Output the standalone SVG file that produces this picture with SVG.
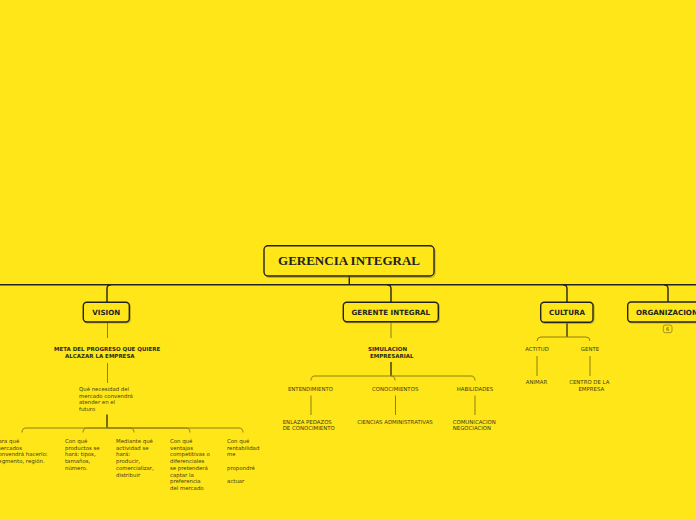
<svg xmlns="http://www.w3.org/2000/svg" width="696" height="520" viewBox="0 0 696 520">
<style>
.bg{fill:#FFE619}
.box{fill:#FFE619;stroke:#222;stroke-width:1.4}
.shd{fill:none;stroke:#9a8a10;stroke-width:1.2;opacity:.6}
.main{fill:none;stroke:#222;stroke-width:1.4}
.stem{fill:none;stroke:#2a2a10;stroke-width:1.3}
.sub{fill:none;stroke:#8f7f15;stroke-width:1}
.t-root{font-family:"Liberation Serif","Times New Roman",serif;font-weight:bold;font-size:13px;fill:#222}
.t-node{font-family:"DejaVu Sans",Verdana,sans-serif;font-weight:bold;font-size:7.1px;fill:#222}
.t-bold{font-family:"DejaVu Sans",Verdana,sans-serif;font-weight:bold;font-size:5.5px;fill:#2a2a18}
.t-sm{font-family:"DejaVu Sans",Verdana,sans-serif;font-size:5.4px;fill:#443d14}
.badge{fill:none;stroke:#8f7f15;stroke-width:0.8}
.t-badge{font-family:"DejaVu Sans",Verdana,sans-serif;font-size:5px;fill:#4a4318}
</style>
<rect class="bg" x="0" y="0" width="696" height="520"/>

<g id="connectors">
  <path class="main" d="M349.3,276 V284.75"/>
  <path class="main" d="M0,284.75 H696"/>
  <path class="main" d="M111,284.75 Q107,284.75 107,288.75 V302.3"/>
  <path class="main" d="M387,284.75 Q391,284.75 391,288.75 V302.3"/>
  <path class="main" d="M563,284.75 Q567,284.75 567,288.75 V302.3"/>
  <path class="main" d="M664,284.75 Q668,284.75 668,288.75 V302"/>

  <!-- VISION subtree -->
  <path class="sub" d="M107.5,322 V338"/>
  <path class="sub" d="M107.5,363 V383"/>
  <path class="stem" d="M107,414.5 V428"/>
  <path class="sub" d="M107,428 H26 Q22,428 22,432.5"/>
  <path class="sub" d="M107,428 H87 Q83,428 83,432.5"/>
  <path class="sub" d="M107,428 H130 Q134,428 134,432.5"/>
  <path class="sub" d="M107,428 H186 Q190,428 190,432.5"/>
  <path class="sub" d="M107,428 H239 Q243,428 243,432.5"/>

  <!-- GERENTE INTEGRAL subtree -->
  <path class="sub" d="M391,322 V338"/>
  <path class="stem" d="M391,362 V376"/>
  <path class="sub" d="M391,376 H315 Q311,376 311,380.5"/>
  <path class="sub" d="M391,376 H471 Q475,376 475,380.5"/>
  <path class="sub" d="M391,376 Q395,376 395,380.5"/>
  <path class="sub" d="M311,395.5 V415"/>
  <path class="sub" d="M395.5,395.5 V415"/>
  <path class="sub" d="M475,395.5 V415"/>

  <!-- CULTURA subtree -->
  <path class="stem" d="M567,322.3 V337"/>
  <path class="sub" d="M567,337 H541 Q537,337 537,341"/>
  <path class="sub" d="M567,337 H586 Q590,337 590,341"/>
  <path class="sub" d="M537,356 V376"/>
  <path class="sub" d="M590,356 V376"/>
</g>

<g id="root">
  <rect class="shd" x="265" y="247" width="170" height="30.3" rx="4"/>
  <rect class="box" x="264" y="245.7" width="170" height="30.3" rx="4"/>
  <text class="t-root" x="349" y="265.3" text-anchor="middle">GERENCIA INTEGRAL</text>
</g>

<g id="vision">
  <rect class="shd" x="84.3" y="303.3" width="46" height="19.7" rx="3.5"/>
  <rect class="box" x="83.3" y="302.3" width="46" height="19.7" rx="3.5"/>
  <text class="t-node" x="106.3" y="315.2" text-anchor="middle">VISION</text>
</g>
<g id="meta">
  <text class="t-bold" x="54" y="351.3">META DEL PROGRESO QUE QUIERE</text>
  <text class="t-bold" x="65" y="358.2">ALCAZAR LA EMPRESA</text>
</g>
<g id="necesidad">
  <text class="t-sm" x="79" y="391">Qué necesidad del</text>
  <text class="t-sm" x="79" y="397.5">mercado convendrá</text>
  <text class="t-sm" x="79" y="404">atender en el</text>
  <text class="t-sm" x="79" y="410.5">futuro</text>
</g>
<g id="para-que">
  <text class="t-sm" x="-4.5" y="443">Para qué</text>
  <text class="t-sm" x="-4.5" y="449.7">mercados</text>
  <text class="t-sm" x="-4.5" y="456.4">convendrá hacerlo:</text>
  <text class="t-sm" x="-4.5" y="463.1">segmento, región.</text>
</g>
<g id="productos">
  <text class="t-sm" x="65" y="443">Con qué</text>
  <text class="t-sm" x="65" y="449.7">productos se</text>
  <text class="t-sm" x="65" y="456.4">hará: tipos,</text>
  <text class="t-sm" x="65" y="463.1">tamaños,</text>
  <text class="t-sm" x="65" y="469.8">número.</text>
</g>
<g id="actividad">
  <text class="t-sm" x="116" y="443">Mediante qué</text>
  <text class="t-sm" x="116" y="449.7">actividad se</text>
  <text class="t-sm" x="116" y="456.4">hará:</text>
  <text class="t-sm" x="116" y="463.1">producir,</text>
  <text class="t-sm" x="116" y="469.8">comercializar,</text>
  <text class="t-sm" x="116" y="476.5">distribuir</text>
</g>
<g id="ventajas">
  <text class="t-sm" x="170" y="443">Con qué</text>
  <text class="t-sm" x="170" y="449.7">ventajas</text>
  <text class="t-sm" x="170" y="456.4">competitivas o</text>
  <text class="t-sm" x="170" y="463.1">diferenciales</text>
  <text class="t-sm" x="170" y="469.8">se pretenderá</text>
  <text class="t-sm" x="170" y="476.5">captar la</text>
  <text class="t-sm" x="170" y="483.2">preferencia</text>
  <text class="t-sm" x="170" y="489.9">del mercado</text>
</g>
<g id="rentabilidad">
  <text class="t-sm" x="227" y="443">Con qué</text>
  <text class="t-sm" x="227" y="449.7">rentabilidad</text>
  <text class="t-sm" x="227" y="456.4">me</text>
  <text class="t-sm" x="227" y="469.8">propondré</text>
  <text class="t-sm" x="227" y="483.2">actuar</text>
</g>

<g id="gerente-integral">
  <rect class="shd" x="344.3" y="303.3" width="95" height="19.4" rx="3.5"/>
  <rect class="box" x="343.3" y="302.3" width="95" height="19.4" rx="3.5"/>
  <text class="t-node" x="390.8" y="315" text-anchor="middle">GERENTE INTEGRAL</text>
</g>
<g id="simulacion">
  <text class="t-bold" x="368" y="351.3">SIMULACION</text>
  <text class="t-bold" x="370" y="358.2">EMPRESARIAL</text>
</g>
<g id="entendimiento">
  <text class="t-sm" x="310.5" y="391" text-anchor="middle">ENTENDIMIENTO</text>
</g>
<g id="conocimientos">
  <text class="t-sm" x="395.2" y="391" text-anchor="middle">CONOCIMIENTOS</text>
</g>
<g id="habilidades">
  <text class="t-sm" x="475" y="391" text-anchor="middle">HABILIDADES</text>
</g>
<g id="enlaza">
  <text class="t-sm" x="282.7" y="424">ENLAZA PEDAZOS</text>
  <text class="t-sm" x="282.7" y="430">DE CONOCIMIENTO</text>
</g>
<g id="ciencias">
  <text class="t-sm" x="395" y="424" text-anchor="middle">CIENCIAS ADMINISTRATIVAS</text>
</g>
<g id="comunicacion">
  <text class="t-sm" x="452.7" y="424">COMUNICACION</text>
  <text class="t-sm" x="452.7" y="430">NEGOCIACION</text>
</g>

<g id="cultura">
  <rect class="shd" x="541.7" y="303.3" width="52.3" height="20" rx="3.5"/>
  <rect class="box" x="540.7" y="302.3" width="52.3" height="20" rx="3.5"/>
  <text class="t-node" x="567" y="315.2" text-anchor="middle">CULTURA</text>
</g>
<g id="actitud">
  <text class="t-sm" x="537" y="351" text-anchor="middle">ACTITUD</text>
</g>
<g id="gente">
  <text class="t-sm" x="590" y="351" text-anchor="middle">GENTE</text>
</g>
<g id="animar">
  <text class="t-sm" x="536.5" y="384" text-anchor="middle">ANIMAR</text>
</g>
<g id="centro">
  <text class="t-sm" x="589.3" y="384" text-anchor="middle">CENTRO DE LA</text>
  <text class="t-sm" x="591.3" y="391" text-anchor="middle">EMPRESA</text>
</g>

<g id="organizacion">
  <rect class="shd" x="628.7" y="303" width="81" height="20" rx="3.5"/>
  <rect class="box" x="627.7" y="302" width="81" height="20" rx="3.5"/>
  <text class="t-node" x="636" y="315">ORGANIZACION</text>
  <rect class="badge" x="663.3" y="325" width="8.7" height="7.7" rx="2"/>
  <text class="t-badge" x="667.7" y="330.7" text-anchor="middle">6</text>
</g>
</svg>
